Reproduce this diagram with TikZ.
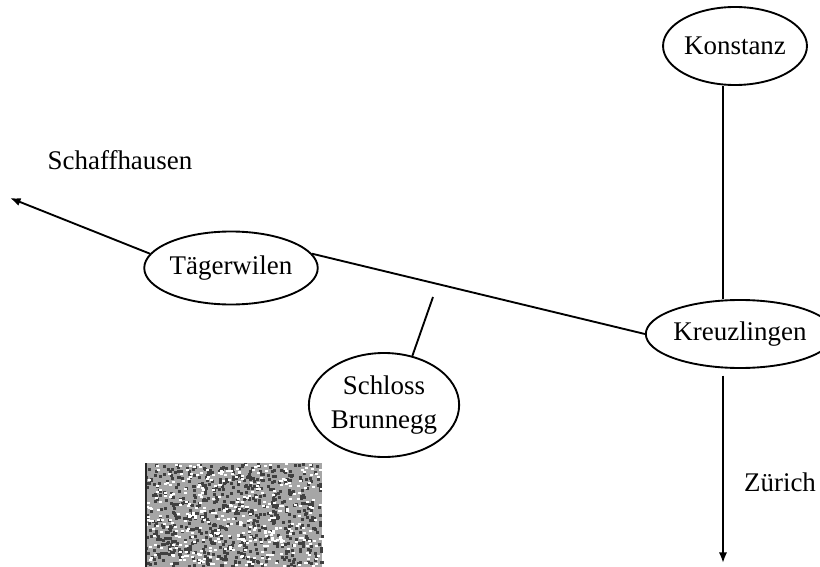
\documentclass[tikz,border=0pt]{standalone}
\usepackage{fontspec}
\setmainfont{Liberation Serif}
\usepackage{tikz}
\usetikzlibrary{shapes.geometric, arrows.meta}

\tikzset{
    town/.style={draw, ellipse, line width=1.6pt, inner sep=0pt, font=\fontsize{23}{29}\selectfont, align=center},
    road/.style={line width=1.6pt},
    label/.style={font=\fontsize{23}{29}\selectfont}
}

\begin{document}
\begin{tikzpicture}[x=0.03cm, y=-0.03cm, >={Latex[length=9pt, width=7pt]}]
        \useasboundingbox (0,0) rectangle (820,567);

        % Orte
        \node[town, minimum width=4.08cm, minimum height=2.34cm] (konstanz) at (735,46) {Konstanz};
        \node[town, minimum width=4.62cm, minimum height=2.04cm] (kreuz) at (740,334) {Kreuzlingen};
        \node[town, minimum width=4.14cm, minimum height=2.19cm] (tag) at (231,268) {T\"agerwilen};
        \node[town, minimum width=4.14cm, minimum height=3.12cm] (schloss) at (384,405) {Schloss\\Brunnegg};

        % Beschriftungen
        \node[label] (schaff) at (120,160) {Schaffhausen};
        \node[label] (zuerich) at (780,482) {Z\"urich};

        % freie Enden
        \coordinate (schaffend) at (10,198);
        \coordinate (zuerichend) at (723,563);
        \coordinate (abzweig) at (433,297);

        % Strassen
        \draw[road] (konstanz.south -| zuerichend) -- (kreuz.north -| zuerichend);
        \draw[road] (tag.10) -- (kreuz.west);
        \draw[road, ->] (tag.170) -- (schaffend);
        \draw[road] (schloss.60) -- (abzweig);
        \draw[road, ->] ([yshift=-0.2cm]kreuz.south -| zuerichend) -- (zuerichend);

        % Fleck vom Scan
        \fill[black!35] (145,463) rectangle (322,567);
        \pgfmathsetseed{7}
        \foreach \i in {1,...,700} {
            \pgfmathsetmacro{\px}{145+176*rnd}
            \pgfmathsetmacro{\py}{463+102*rnd}
            \fill[black!75] (\px,\py) rectangle ++(3,3);
        }
        \foreach \i in {1,...,400} {
            \pgfmathsetmacro{\px}{145+176*rnd}
            \pgfmathsetmacro{\py}{463+102*rnd}
            \fill[white] (\px,\py) rectangle ++(3,2);
        }
        \draw[black!85, line width=1.4pt] (146,463) -- (146,567);
\end{tikzpicture}
\end{document}
